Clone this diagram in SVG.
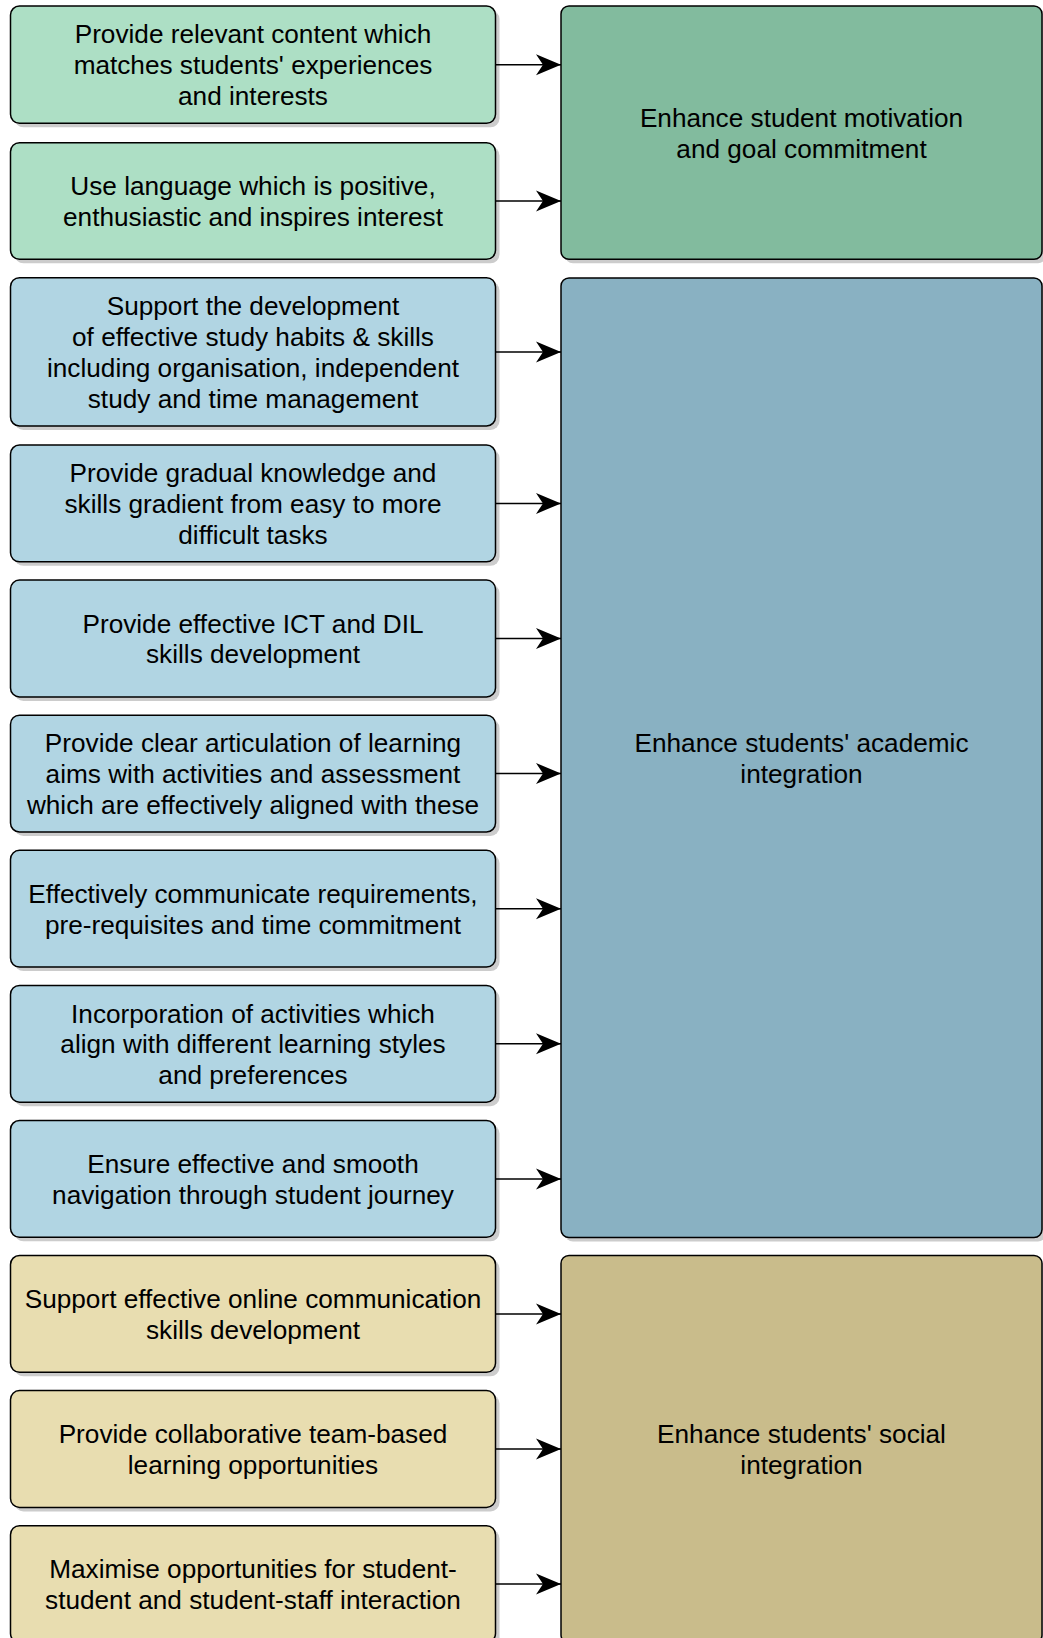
<svg xmlns="http://www.w3.org/2000/svg" width="1043" height="1638" viewBox="0 0 1043 1638">
<style>
.box{stroke:#000;stroke-width:1.5}
.sh{fill:#cccccc}
.g1{fill:#ADDFC5}.g2{fill:#82BB9E}
.b1{fill:#B1D5E3}.b2{fill:#89B1C2}
.t1{fill:#E8DDB0}.t2{fill:#C9BC8B}
text{font-family:"Liberation Sans",Arial,sans-serif;font-size:26.2px;fill:#000;text-anchor:middle}
.edge{stroke:#000;stroke-width:1.5;fill:none}
</style>
<defs>
<marker id="arr" markerUnits="userSpaceOnUse" markerWidth="30" markerHeight="24" refX="25" refY="11" orient="auto">
<path d="M25,11 L0,0.5 L7,11 L0,21.5 Z" fill="#000"/>
</marker>
</defs>
<rect width="1043" height="1638" fill="#fff"/>

<g id="goal-motivation">
<rect class="sh" x="565" y="10" width="481" height="253.3" rx="8"/>
<rect class="box g2" x="561" y="6" width="481" height="253.3" rx="8"/>
<text><tspan x="801.5" y="126.8">Enhance student motivation</tspan><tspan x="801.5" y="157.6">and goal commitment</tspan></text>
</g>
<g id="goal-academic">
<rect class="sh" x="565" y="282" width="481" height="959.5" rx="8"/>
<rect class="box b2" x="561" y="278" width="481" height="959.5" rx="8"/>
<text><tspan x="801.5" y="751.9">Enhance students' academic</tspan><tspan x="801.5" y="782.7">integration</tspan></text>
</g>
<g id="goal-social">
<rect class="sh" x="565" y="1259.5" width="481" height="387.4" rx="8"/>
<rect class="box t2" x="561" y="1255.5" width="481" height="387.4" rx="8"/>
<text><tspan x="801.5" y="1443.3">Enhance students' social</tspan><tspan x="801.5" y="1474.1">integration</tspan></text>
</g>

<g id="n1">
<rect class="sh" x="14.5" y="10" width="485" height="117.3" rx="9"/>
<rect class="box g1" x="10.5" y="6" width="485" height="117.3" rx="9"/>
<text><tspan x="253" y="43.4">Provide relevant content which</tspan><tspan x="253" y="74.2">matches students' experiences</tspan><tspan x="253" y="105">and interests</tspan></text>
</g>
<g id="n2">
<rect class="sh" x="14.5" y="146.7" width="485" height="116.6" rx="9"/>
<rect class="box g1" x="10.5" y="142.7" width="485" height="116.6" rx="9"/>
<text><tspan x="253" y="195.1">Use language which is positive,</tspan><tspan x="253" y="225.9">enthusiastic and inspires interest</tspan></text>
</g>
<g id="n3">
<rect class="sh" x="14.5" y="281.7" width="485" height="148.3" rx="9"/>
<rect class="box b1" x="10.5" y="277.7" width="485" height="148.3" rx="9"/>
<text><tspan x="253" y="315.2">Support the development</tspan><tspan x="253" y="346">of effective study habits &amp; skills</tspan><tspan x="253" y="376.8">including organisation, independent</tspan><tspan x="253" y="407.6">study and time management</tspan></text>
</g>
<g id="n4">
<rect class="sh" x="14.5" y="449" width="485" height="116.8" rx="9"/>
<rect class="box b1" x="10.5" y="445" width="485" height="116.8" rx="9"/>
<text><tspan x="253" y="482.1">Provide gradual knowledge and</tspan><tspan x="253" y="512.9">skills gradient from easy to more</tspan><tspan x="253" y="543.7">difficult tasks</tspan></text>
</g>
<g id="n5">
<rect class="sh" x="14.5" y="584.1" width="485" height="116.8" rx="9"/>
<rect class="box b1" x="10.5" y="580.1" width="485" height="116.8" rx="9"/>
<text><tspan x="253" y="632.6">Provide effective ICT and DIL</tspan><tspan x="253" y="663.4">skills development</tspan></text>
</g>
<g id="n6">
<rect class="sh" x="14.5" y="719.2" width="485" height="116.8" rx="9"/>
<rect class="box b1" x="10.5" y="715.2" width="485" height="116.8" rx="9"/>
<text><tspan x="253" y="752.3">Provide clear articulation of learning</tspan><tspan x="253" y="783.1">aims with activities and assessment</tspan><tspan x="253" y="813.9">which are effectively aligned with these</tspan></text>
</g>
<g id="n7">
<rect class="sh" x="14.5" y="854.3" width="485" height="116.8" rx="9"/>
<rect class="box b1" x="10.5" y="850.3" width="485" height="116.8" rx="9"/>
<text><tspan x="253" y="902.8">Effectively communicate requirements,</tspan><tspan x="253" y="933.6">pre-requisites and time commitment</tspan></text>
</g>
<g id="n8">
<rect class="sh" x="14.5" y="989.4" width="485" height="116.8" rx="9"/>
<rect class="box b1" x="10.5" y="985.4" width="485" height="116.8" rx="9"/>
<text><tspan x="253" y="1022.5">Incorporation of activities which</tspan><tspan x="253" y="1053.3">align with different learning styles</tspan><tspan x="253" y="1084.1">and preferences</tspan></text>
</g>
<g id="n9">
<rect class="sh" x="14.5" y="1124.5" width="485" height="116.8" rx="9"/>
<rect class="box b1" x="10.5" y="1120.5" width="485" height="116.8" rx="9"/>
<text><tspan x="253" y="1173">Ensure effective and smooth</tspan><tspan x="253" y="1203.8">navigation through student journey</tspan></text>
</g>
<g id="n10">
<rect class="sh" x="14.5" y="1259.5" width="485" height="116.8" rx="9"/>
<rect class="box t1" x="10.5" y="1255.5" width="485" height="116.8" rx="9"/>
<text><tspan x="253" y="1308">Support effective online communication</tspan><tspan x="253" y="1338.8">skills development</tspan></text>
</g>
<g id="n11">
<rect class="sh" x="14.5" y="1394.6" width="485" height="116.8" rx="9"/>
<rect class="box t1" x="10.5" y="1390.6" width="485" height="116.8" rx="9"/>
<text><tspan x="253" y="1443.1">Provide collaborative team-based</tspan><tspan x="253" y="1473.9">learning opportunities</tspan></text>
</g>
<g id="n12">
<rect class="sh" x="14.5" y="1529.7" width="485" height="116.8" rx="9"/>
<rect class="box t1" x="10.5" y="1525.7" width="485" height="116.8" rx="9"/>
<text><tspan x="253" y="1578.2">Maximise opportunities for student-</tspan><tspan x="253" y="1609">student and student-staff interaction</tspan></text>
</g>

<g id="connectors">
<path class="edge" marker-end="url(#arr)" d="M495.5,64.7 H561"/>
<path class="edge" marker-end="url(#arr)" d="M495.5,201 H561"/>
<path class="edge" marker-end="url(#arr)" d="M495.5,351.9 H561"/>
<path class="edge" marker-end="url(#arr)" d="M495.5,503.4 H561"/>
<path class="edge" marker-end="url(#arr)" d="M495.5,638.5 H561"/>
<path class="edge" marker-end="url(#arr)" d="M495.5,773.6 H561"/>
<path class="edge" marker-end="url(#arr)" d="M495.5,908.7 H561"/>
<path class="edge" marker-end="url(#arr)" d="M495.5,1043.8 H561"/>
<path class="edge" marker-end="url(#arr)" d="M495.5,1178.9 H561"/>
<path class="edge" marker-end="url(#arr)" d="M495.5,1313.9 H561"/>
<path class="edge" marker-end="url(#arr)" d="M495.5,1449 H561"/>
<path class="edge" marker-end="url(#arr)" d="M495.5,1584.1 H561"/>
</g>
</svg>
